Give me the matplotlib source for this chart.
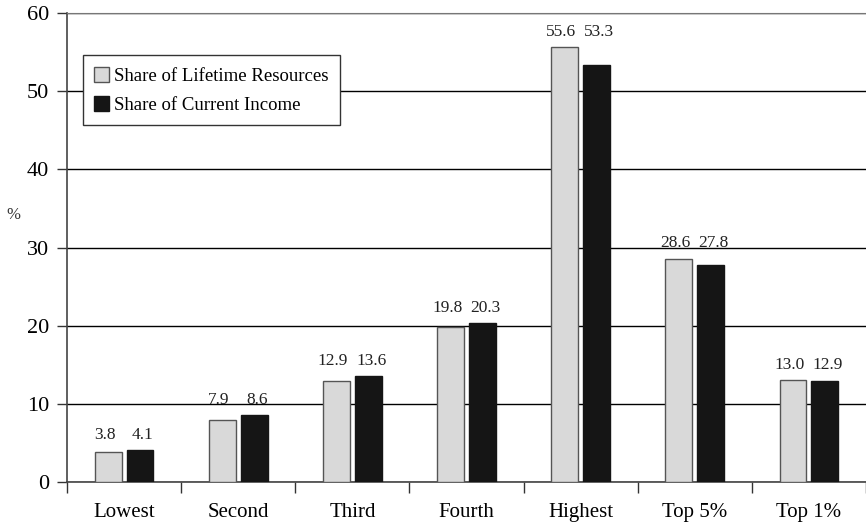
import numpy as np
import matplotlib
matplotlib.use("Agg")
import matplotlib.pyplot as plt

categories = ["Lowest", "Second", "Third", "Fourth", "Highest", "Top 5%", "Top 1%"]
lifetime = [3.8, 7.9, 12.9, 19.8, 55.6, 28.6, 13.0]
current = [4.1, 8.6, 13.6, 20.3, 53.3, 27.8, 12.9]

plt.rcParams['font.family'] = ['Liberation Serif', 'DejaVu Serif']

fig = plt.figure(figsize=(8.66, 5.24), dpi=100)
ax = fig.add_axes([0.0774, 0.080, 0.9226, 0.895])

x = np.arange(len(categories))
w = 0.235
off = 0.14
b1 = ax.bar(x - off, lifetime, w, color="#d9d9d9", edgecolor="#555555", linewidth=1.0,
            label="Share of Lifetime Resources", zorder=3)
b2 = ax.bar(x + off, current, w, color="#151515", edgecolor="#151515", linewidth=1.0,
            label="Share of Current Income", zorder=3)

# both labels of a pair sit on one line above the taller bar
for i in range(len(categories)):
    top = max(lifetime[i], current[i]) + 0.9
    ax.text(x[i] - off - 0.03, top, f"{lifetime[i]:.1f}", ha="center", va="bottom",
            fontsize=12.5, color="#222222")
    ax.text(x[i] + off + 0.025, top, f"{current[i]:.1f}", ha="center", va="bottom",
            fontsize=12.5, color="#222222")

ax.set_xlim(-0.5, len(categories) - 0.5)
ax.set_ylim(0, 60)
ax.set_yticks(range(0, 61, 10))
ax.yaxis.grid(True, color="black", linewidth=1.0, zorder=0)
ax.set_axisbelow(True)

ax.set_xticks(x)
ax.set_xticklabels(categories, fontsize=15)
ax.set_xticks(np.arange(-0.5, len(categories) + 0.5, 1), minor=True)
ax.tick_params(axis="x", which="major", length=0, pad=15)
ax.tick_params(axis="x", which="minor", length=8, width=1.0, color="#333333", direction="out")
ax.tick_params(axis="y", length=7, width=1.0, labelsize=16, pad=6, color="#333333")

ax.spines["right"].set_visible(False)
ax.spines["top"].set_color("#777777")
ax.spines["left"].set_color("#444444")
ax.spines["bottom"].set_color("#444444")
ax.spines["left"].set_linewidth(1.2)
ax.spines["bottom"].set_linewidth(1.2)

fig.text(0.015, 0.59, "%", fontsize=12, color="#333333", ha="center", va="center")

leg = ax.legend(loc="upper left", bbox_to_anchor=(0.02, 0.91), fontsize=13.5,
                frameon=True, fancybox=False, edgecolor="#333333", framealpha=1,
                handlelength=0.8, handleheight=0.85, handletextpad=0.25,
                borderpad=0.6, labelspacing=0.6, borderaxespad=0)
leg.get_frame().set_linewidth(1.0)

fig.savefig("out.png", dpi=100)
